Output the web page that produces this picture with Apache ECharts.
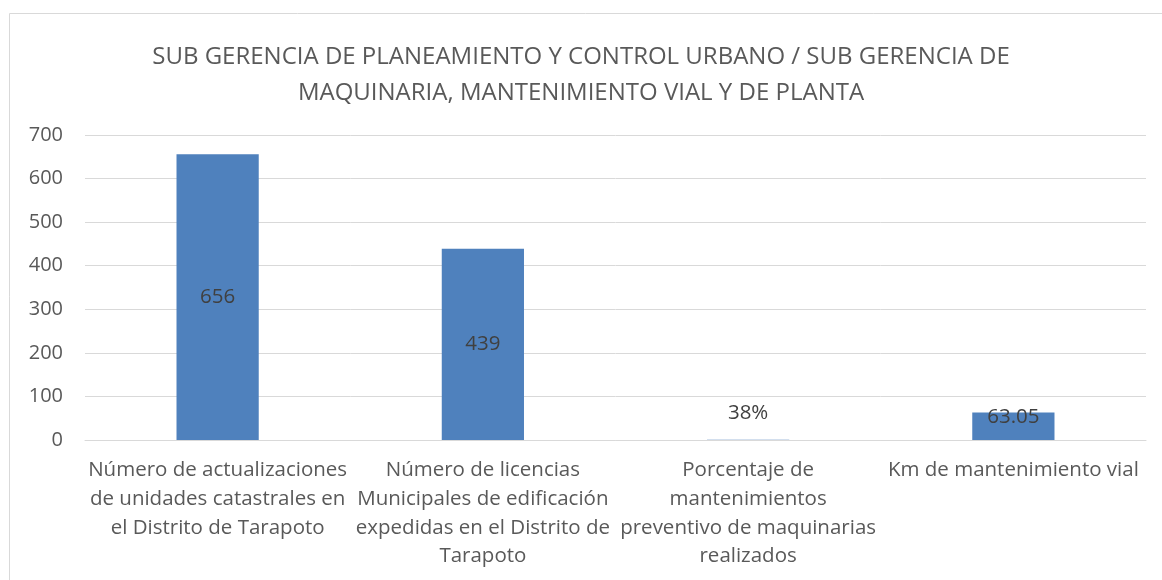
<!DOCTYPE html>
<html>
<head>
<meta charset="utf-8">
<script src="https://cdn.jsdelivr.net/npm/echarts@6/dist/echarts.min.js"></script>
<style>
html, body { margin: 0; padding: 0; background: #fff; }
#chart { width: 1162px; height: 580px; }
</style>
</head>
<body>
<div id="chart"></div>
<script>
// chart data
var categories = [
    'Número de actualizaciones\nde unidades catastrales en\nel Distrito de Tarapoto',
    'Número de licencias\nMunicipales de edificación\nexpedidas en el Distrito de\nTarapoto',
    'Porcentaje de\nmantenimientos\npreventivo de maquinarias\nrealizados',
    'Km de mantenimiento vial'
];
var values = [656, 439, 0.38, 63.05];
var valueLabels = ['656', '439', '38%', '63.05'];
var yTicks = [0, 100, 200, 300, 400, 500, 600, 700];

var font = '"Open Sans", "Noto Sans", sans-serif';

var chart = echarts.init(document.getElementById('chart'));

var seriesData = values.map(function (v, i) {
    var item = { value: v };
    if (i === 2) {
        item.label = { position: 'top', distance: 16 };
    } else if (i === 3) {
        item.label = { position: 'inside', offset: [0, -9] };
    }
    return item;
});

chart.setOption({
    animation: false,
    title: {
        text: 'SUB GERENCIA DE PLANEAMIENTO Y CONTROL URBANO / SUB GERENCIA DE\nMAQUINARIA, MANTENIMIENTO VIAL Y DE PLANTA',
        left: 'center',
        top: 34,
        textStyle: {
            fontFamily: font,
            fontWeight: 'normal',
            fontSize: 24,
            color: '#595959',
            lineHeight: 36
        }
    },
    graphic: [{
        type: 'polyline',
        shape: { points: [[9.5, 580], [9.5, 13.5], [1162, 13.5]] },
        style: { stroke: '#D9D9D9', lineWidth: 1, fill: null }
    }],
    grid: {
        left: 85,
        right: 16,
        top: 135,
        bottom: 140
    },
    xAxis: {
        type: 'category',
        data: categories,
        axisLine: { lineStyle: { color: '#D9D9D9' } },
        axisTick: { show: false },
        axisLabel: {
            interval: 0,
            margin: 16,
            fontFamily: font,
            fontSize: 20.5,
            lineHeight: 28.7,
            color: '#595959'
        }
    },
    yAxis: {
        type: 'value',
        min: yTicks[0],
        max: yTicks[yTicks.length - 1],
        interval: 100,
        axisLine: { show: false },
        axisTick: { show: false },
        splitLine: { lineStyle: { color: '#D9D9D9' } },
        axisLabel: {
            margin: 22,
            fontFamily: font,
            fontSize: 20,
            color: '#595959'
        }
    },
    series: [{
        type: 'bar',
        data: seriesData,
        barWidth: '31%',
        itemStyle: { color: '#4F81BD' },
        label: {
            show: true,
            position: 'inside',
            fontFamily: font,
            fontSize: 20.5,
            color: '#404040',
            formatter: function (p) { return valueLabels[p.dataIndex]; }
        }
    }]
});
</script>
</body>
</html>
